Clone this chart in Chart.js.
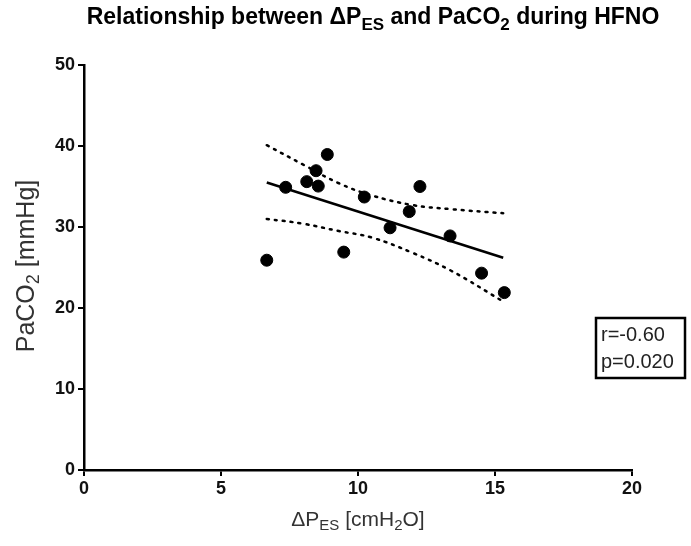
<!DOCTYPE html>
<html>
<head>
<meta charset="utf-8">
<script src="https://cdn.jsdelivr.net/npm/chart.js@4/dist/chart.umd.min.js"></script>
<style>
    html, body { margin: 0; padding: 0; background: #fff; }
    #wrap { width: 691px; height: 546px; position: relative; }
</style>
</head>
<body>
<div id="wrap"><canvas id="pesChart" width="691" height="546"></canvas></div>
<script>
// --- data ---
const pesValues   = [6.67, 7.36, 8.13, 8.47, 8.55, 8.88, 9.48, 10.23, 11.17, 11.87, 12.26, 13.36, 14.51, 15.34];
const paco2Values = [25.9, 34.9, 35.6, 36.95, 35.05, 38.95, 26.9, 33.7, 29.9, 31.9, 35.0, 28.9, 24.3, 21.9];

const fitX = [6.67, 15.3];
const fitY = [35.5, 26.2];

const bandX     = [6.67, 8.0, 9.3, 10.5, 12.0, 13.4, 15.3];
const bandUpper = [40.1, 37.7, 35.4, 33.9, 32.7, 32.2, 31.7];
const bandLower = [31.0, 30.4, 29.5, 28.7, 26.8, 24.6, 20.8];

const xTickValues = [0, 5, 10, 15, 20];
const yTickValues = [0, 10, 20, 30, 40, 50];

const statLines = ['r=-0.60', 'p=0.020'];

function toPoints(xs, ys) {
    return xs.map(function (x, i) { return { x: x, y: ys[i] }; });
}

// draws text with subscript parts, segments = [[text, isSub], ...]
function drawRich(ctx, segments, x, y, size, weight, color) {
    const subSize = Math.round(size * 0.72);
    let total = 0;
    segments.forEach(function (s) {
        ctx.font = weight + ' ' + (s[1] ? subSize : size) + 'px "Liberation Sans", Arial, sans-serif';
        total += ctx.measureText(s[0]).width;
    });
    let cx = x - total / 2;
    ctx.fillStyle = color;
    ctx.textAlign = 'left';
    ctx.textBaseline = 'middle';
    segments.forEach(function (s) {
        ctx.font = weight + ' ' + (s[1] ? subSize : size) + 'px "Liberation Sans", Arial, sans-serif';
        ctx.fillText(s[0], cx, s[1] ? y + size * 0.3 : y);
        cx += ctx.measureText(s[0]).width;
    });
}

const labelsPlugin = {
    id: 'richLabels',
    afterDraw: function (chart) {
        const ctx = chart.ctx;
        const area = chart.chartArea;
        ctx.save();
        // title
        drawRich(ctx, [['Relationship between \u0394P', false], ['ES', true], [' and PaCO', false], ['2', true], [' during HFNO', false]],
            373, 18, 23, 'bold', '#000');
        // x axis title
        drawRich(ctx, [['\u0394P', false], ['ES', true], [' [cmH', false], ['2', true], ['O]', false]],
            (area.left + area.right) / 2, 520, 21, 'normal', '#333');
        // y axis title
        ctx.translate(27, 266);
        ctx.rotate(-Math.PI / 2);
        drawRich(ctx, [['PaCO', false], ['2', true], [' [mmHg]', false]], 0, 0, 25, 'normal', '#333');
        ctx.restore();

        // stats box
        ctx.save();
        ctx.strokeStyle = '#000';
        ctx.lineWidth = 2.5;
        ctx.strokeRect(596, 318, 89, 60);
        ctx.fillStyle = '#222';
        ctx.font = '20px "Liberation Sans", Arial, sans-serif';
        ctx.textAlign = 'left';
        ctx.textBaseline = 'middle';
        ctx.fillText(statLines[0], 601, 335);
        ctx.fillText(statLines[1], 601, 362);
        ctx.restore();
    }
};

const tickFont = { family: '"Liberation Sans", Arial, sans-serif', size: 18, weight: 'bold' };

new Chart(document.getElementById('pesChart').getContext('2d'), {
    type: 'scatter',
    data: {
        datasets: [
            {
                label: 'Patients',
                data: toPoints(pesValues, paco2Values),
                backgroundColor: '#000',
                borderColor: '#000',
                pointRadius: 6,
                pointHoverRadius: 6
            },
            {
                label: 'Regression',
                data: toPoints(fitX, fitY),
                showLine: true,
                borderColor: '#000',
                borderWidth: 2.5,
                pointRadius: 0
            },
            {
                label: 'Upper 95% CI',
                data: toPoints(bandX, bandUpper),
                showLine: true,
                borderColor: '#000',
                borderWidth: 2.5,
                borderDash: [2, 6],
                borderCapStyle: 'round',
                tension: 0.4,
                pointRadius: 0
            },
            {
                label: 'Lower 95% CI',
                data: toPoints(bandX, bandLower),
                showLine: true,
                borderColor: '#000',
                borderWidth: 2.5,
                borderDash: [2, 6],
                borderCapStyle: 'round',
                tension: 0.4,
                pointRadius: 0
            }
        ]
    },
    options: {
        responsive: false,
        animation: false,
        layout: {
            padding: { top: 65, right: 59, bottom: 0, left: 0 }
        },
        plugins: {
            legend: { display: false },
            tooltip: { enabled: false }
        },
        scales: {
            x: {
                type: 'linear',
                min: 0,
                max: 20,
                afterBuildTicks: function (axis) {
                    axis.ticks = xTickValues.map(function (v) { return { value: v }; });
                },
                afterFit: function (axis) { axis.height = 76; },
                grid: { drawOnChartArea: false, drawTicks: true, tickLength: 6, color: '#000', lineWidth: 2 },
                border: { color: '#000', width: 2.5 },
                ticks: { color: '#111', font: tickFont, padding: 2 }
            },
            y: {
                type: 'linear',
                min: 0,
                max: 50,
                afterBuildTicks: function (axis) {
                    axis.ticks = yTickValues.map(function (v) { return { value: v }; });
                },
                afterFit: function (axis) { axis.width = 84; },
                grid: { drawOnChartArea: false, drawTicks: true, tickLength: 6, color: '#000', lineWidth: 2 },
                border: { color: '#000', width: 2.5 },
                ticks: { color: '#111', font: tickFont, padding: 3 }
            }
        }
    },
    plugins: [labelsPlugin]
});
</script>
</body>
</html>
